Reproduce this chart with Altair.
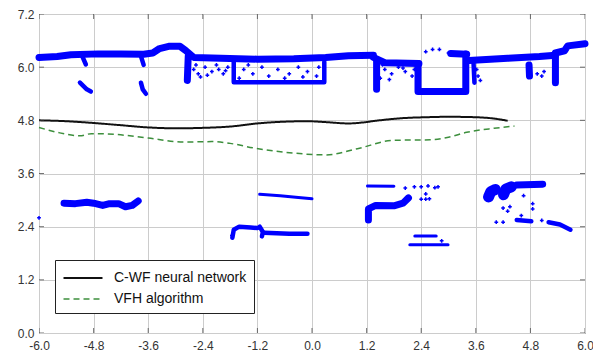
import altair as alt
import pandas as pd

# ---------------- data ----------------
X_TICKS = [-6.0, -4.8, -3.6, -2.4, -1.2, 0.0, 1.2, 2.4, 3.6, 4.8, 6.0]
Y_TICKS = [0.0, 1.2, 2.4, 3.6, 4.8, 6.0, 7.2]

SERIES = ["C-WF neural network", "VFH algorithm"]

CWF_X = [-6.0, -5.4, -4.8, -4.2, -3.6, -3.0, -2.4, -1.8, -1.2, -0.6, -0.1, 0.3, 0.8, 1.1, 1.4, 2.0, 2.5, 3.0, 3.6, 4.0, 4.3]
CWF_Y = [4.80, 4.78, 4.74, 4.69, 4.64, 4.62, 4.63, 4.66, 4.73, 4.77, 4.78, 4.76, 4.73, 4.75, 4.79, 4.85, 4.87, 4.88, 4.87, 4.84, 4.79]

VFH_X = [-6.0, -5.6, -5.1, -4.85, -4.3, -3.6, -2.8, -2.2, -1.8, -1.3, -0.4, 0.3, 1.0, 1.8, 2.6, 3.0, 3.4, 4.0, 4.45]
VFH_Y = [4.64, 4.53, 4.45, 4.50, 4.48, 4.40, 4.31, 4.32, 4.28, 4.18, 4.06, 4.02, 4.16, 4.35, 4.36, 4.42, 4.53, 4.62, 4.67]

# obstacle outlines (laser scan), grouped by how dense they look
TOP_BAND = [(-6.0, 6.22), (-5.6, 6.24), (-5.3, 6.28), (-4.7, 6.30), (-4.2, 6.30), (-3.7, 6.29),
            (-3.5, 6.32), (-3.35, 6.42), (-3.15, 6.47), (-2.9, 6.47), (-2.78, 6.38), (-2.6, 6.22),
            (-2.0, 6.20), (-1.2, 6.18), (-0.4, 6.19), (0.3, 6.22), (0.8, 6.26), (1.35, 6.27)]
TOP_BAND_2 = [(1.35, 6.22), (1.6, 6.10), (2.35, 6.08)]
TOP_BAND_3 = [(3.05, 6.31), (3.4, 6.29)]
TOP_BAND_4 = [(3.45, 6.15), (4.3, 6.20), (5.0, 6.24), (5.35, 6.27)]
TOP_STEP = [(5.35, 6.32), (5.55, 6.37), (5.62, 6.48), (6.0, 6.53)]
DROP = [(-2.72, 6.25), (-2.74, 5.70)]
COLUMN_A = [(1.42, 6.15), (1.42, 5.50)]
BOX_2 = [(2.33, 6.08), (2.33, 5.45), (3.38, 5.45), (3.38, 6.30)]
COLUMN_E = [(5.35, 6.27), (5.35, 5.65)]
CLUSTER_E = [(4.77, 6.05), (4.78, 5.80)]
LEFT_WALL = [(-5.45, 2.93), (-5.2, 2.92), (-4.95, 2.95), (-4.8, 2.93), (-4.6, 2.88), (-4.45, 2.92),
             (-4.25, 2.92), (-4.1, 2.85), (-3.95, 2.88), (-3.82, 2.98)]
MID_WALL = [(1.24, 2.55), (1.24, 2.80), (1.4, 2.88), (1.8, 2.87), (2.0, 2.93), (2.12, 3.05)]
RIGHT_BAND = [(4.5, 3.34), (5.07, 3.36)]

RIGHT_BLOB_1 = [(3.88, 3.07), (3.93, 3.19), (4.03, 3.24)]
RIGHT_BLOB_2 = [(4.21, 3.12), (4.26, 3.25), (4.38, 3.30)]

DIP_1 = [(-5.05, 6.25), (-4.97, 6.06)]
DIP_2 = [(-3.76, 6.25), (-3.70, 6.05)]
BLOB_1 = [(-5.1, 5.65), (-4.95, 5.50), (-4.86, 5.45)]
BLOB_2 = [(-3.76, 5.65), (-3.72, 5.50), (-3.65, 5.40)]
BOX = [(-1.72, 6.12), (-1.72, 5.66), (0.27, 5.66), (0.27, 6.12)]
COLUMN_D = [(3.55, 6.10), (3.57, 5.65)]
LOW_HOOK = [(-1.75, 2.15), (-1.72, 2.33), (-1.6, 2.40), (-1.35, 2.38), (-1.2, 2.37)]
LOW_KNOT = [(-1.15, 2.40), (-1.08, 2.28), (-1.10, 2.18)]
LOW_BAND = [(-1.05, 2.26), (-0.5, 2.24), (-0.1, 2.24)]
RIGHT_LOW_1 = [(4.5, 2.55), (4.82, 2.52)]
RIGHT_LOW_2 = [(5.2, 2.50), (5.45, 2.45), (5.68, 2.33)]

UPPER_THIN = [(-1.15, 3.13), (-0.7, 3.10), (-0.3, 3.06), (0.0, 3.03)]
SHORT_THIN = [(1.22, 3.32), (1.8, 3.31)]
ROW_UPPER = [(2.26, 2.19), (2.73, 2.19)]
ROW_LOWER = [(2.15, 1.99), (2.99, 1.99)]

SCATTER_X = [-2.6, -2.5, -2.35, -2.2, -2.05, -1.95, -1.85, -2.45, -2.55, -2.3, -2.1, -1.9,
             -1.5, -1.3, -1.1, -0.95, -0.75, -0.5, -0.3, -0.1, 0.1, -1.6, -0.6, 0.15, -1.4, -0.2,
             1.6, 1.75, 1.9, 2.05, 2.2, 1.5, 2.25, 1.55, 1.7, 2.0,
             2.5, 2.65, 2.8, 3.0, 3.15,
             3.62, 3.65, 3.7, 4.95, 5.05, 5.1,
             -6.0,
             2.05, 2.25, 2.4, 2.55, 2.7, 2.77, 2.5, 2.4, 2.5, 2.58,
             4.2, 4.3, 4.35, 4.05, 4.2, 4.65, 4.85, 4.85, 4.6, 5.05, 2.85, -1.76]
SCATTER_Y = [5.95, 5.85, 6.00, 5.90, 5.95, 5.85, 6.00, 5.78, 6.05, 5.82, 6.05, 5.92,
             5.95, 5.85, 6.00, 5.80, 5.95, 5.85, 6.00, 5.90, 5.80, 5.75, 5.75, 6.00, 6.05, 5.78,
             5.95, 5.85, 6.00, 5.90, 5.80, 5.75, 5.95, 6.05, 5.72, 5.98,
             6.35, 6.40, 6.40, 6.32, 6.32,
             5.95, 5.80, 5.70, 5.85, 5.80, 5.90,
             2.60,
             3.27, 3.30, 3.30, 3.32, 3.28, 3.30, 3.14, 3.02, 3.02, 3.03,
             2.82, 2.75, 2.85, 2.50, 2.50, 3.10, 2.92, 2.80, 2.65, 2.54, 2.08, 2.20]

# ---------------- tables ----------------
def walls(groups, tag):
    rows = []
    for g, pts in enumerate(groups):
        for i, (x, y) in enumerate(pts):
            rows.append({"seg": f"{tag}{g}", "i": i, "x": x, "y": y})
    return pd.DataFrame(rows)

heavy = walls([RIGHT_BLOB_1, RIGHT_BLOB_2], "h")
thick = walls([TOP_BAND, TOP_BAND_2, TOP_BAND_3, TOP_BAND_4, TOP_STEP, DROP,
               COLUMN_A, BOX_2, COLUMN_E, CLUSTER_E, LEFT_WALL, MID_WALL, RIGHT_BAND], "t")
medium = walls([DIP_1, DIP_2, BLOB_1, BLOB_2, BOX, COLUMN_D, LOW_HOOK, LOW_KNOT, LOW_BAND,
                RIGHT_LOW_1, RIGHT_LOW_2], "m")
thin = walls([UPPER_THIN, SHORT_THIN, ROW_UPPER, ROW_LOWER], "n")
scatter = pd.DataFrame({"x": SCATTER_X, "y": SCATTER_Y})

paths = pd.concat([
    pd.DataFrame({"x": CWF_X, "y": CWF_Y, "series": SERIES[0]}),
    pd.DataFrame({"x": VFH_X, "y": VFH_Y, "series": SERIES[1]}),
])

xt = pd.DataFrame({"x": X_TICKS})
yt = pd.DataFrame({"y": Y_TICKS})

# ---------------- encodings ----------------
FONT = "Liberation Sans"
BLUE = "#0000ff"
FRAME = "#3a3a3a"

label_expr = "(datum.value < 0 ? '-' : '') + format(abs(datum.value), '.1f')"

X = alt.X("x:Q", title=None,
          scale=alt.Scale(domain=[-6.0, 6.0], nice=False, zero=False),
          axis=alt.Axis(values=X_TICKS, labelExpr=label_expr, grid=True, gridColor="#cccccc",
                        gridWidth=1, domain=False, ticks=False, labelFont=FONT, labelFontSize=12,
                        labelColor="#333333", labelPadding=7, labelFlush=False))
Y = alt.Y("y:Q", title=None,
          scale=alt.Scale(domain=[0.0, 7.2], nice=False, zero=False),
          axis=alt.Axis(values=Y_TICKS, labelExpr=label_expr, grid=True, gridColor="#cccccc",
                        gridWidth=1, domain=False, ticks=False, labelFont=FONT, labelFontSize=12,
                        labelColor="#333333", labelPadding=5, labelFlush=False))

def wall_layer(df, width):
    return alt.Chart(df).mark_line(color=BLUE, strokeWidth=width, strokeCap="round",
                                   strokeJoin="round").encode(
        x=X, y=Y, detail="seg:N", order="i:Q")

walls_heavy = wall_layer(heavy, 11)
walls_thick = wall_layer(thick, 7)
walls_medium = wall_layer(medium, 4.5)
walls_thin = wall_layer(thin, 3)

dots = alt.Chart(scatter).mark_point(shape="cross", filled=True, size=14, color=BLUE,
                                     opacity=1).encode(x=X, y=Y)

legend = alt.Legend(orient="none", legendX=16, legendY=246, title=None,
                    fillColor="white", strokeColor="#222222", padding=7,
                    symbolType="M-2,0H2", symbolSize=380, symbolStrokeWidth=2,
                    symbolOffset=10, labelFont=FONT, labelFontSize=14,
                    labelColor="#111111", labelOffset=20, rowPadding=3.5)

lines = alt.Chart(paths).mark_line(interpolate="monotone").encode(
    x=X, y=Y,
    color=alt.Color("series:N",
                    scale=alt.Scale(domain=SERIES, range=["#111111", "#3d8f3d"]),
                    legend=legend),
    strokeDash=alt.StrokeDash("series:N",
                              scale=alt.Scale(domain=SERIES, range=[[1, 0], [6, 4]]),
                              legend=legend),
    strokeWidth=alt.StrokeWidth("series:N",
                                scale=alt.Scale(domain=SERIES, range=[2.0, 1.5]), legend=None),
)

tick_x_bottom = alt.Chart(xt).mark_tick(color=FRAME, size=10, thickness=1, clip=True).encode(
    x=X, y=alt.value(319))
tick_x_top = alt.Chart(xt).mark_tick(color=FRAME, size=10, thickness=1, clip=True).encode(
    x=X, y=alt.value(0))
tick_y_left = alt.Chart(yt).mark_tick(color=FRAME, size=10, thickness=1, clip=True).encode(
    y=Y, x=alt.value(0))
tick_y_right = alt.Chart(yt).mark_tick(color=FRAME, size=10, thickness=1, clip=True).encode(
    y=Y, x=alt.value(546))

chart = alt.layer(
    walls_heavy, walls_thick, walls_medium, walls_thin, dots, lines,
    tick_x_bottom, tick_x_top, tick_y_left, tick_y_right,
).properties(
    width=546, height=319,
    autosize=alt.AutoSizeParams(type="none"),
    padding={"left": 39, "top": 14, "right": 8, "bottom": 18},
    background="white",
).configure_view(stroke=FRAME, strokeWidth=1)

chart.save("out.html", embed_options={"renderer": "svg", "actions": False})
